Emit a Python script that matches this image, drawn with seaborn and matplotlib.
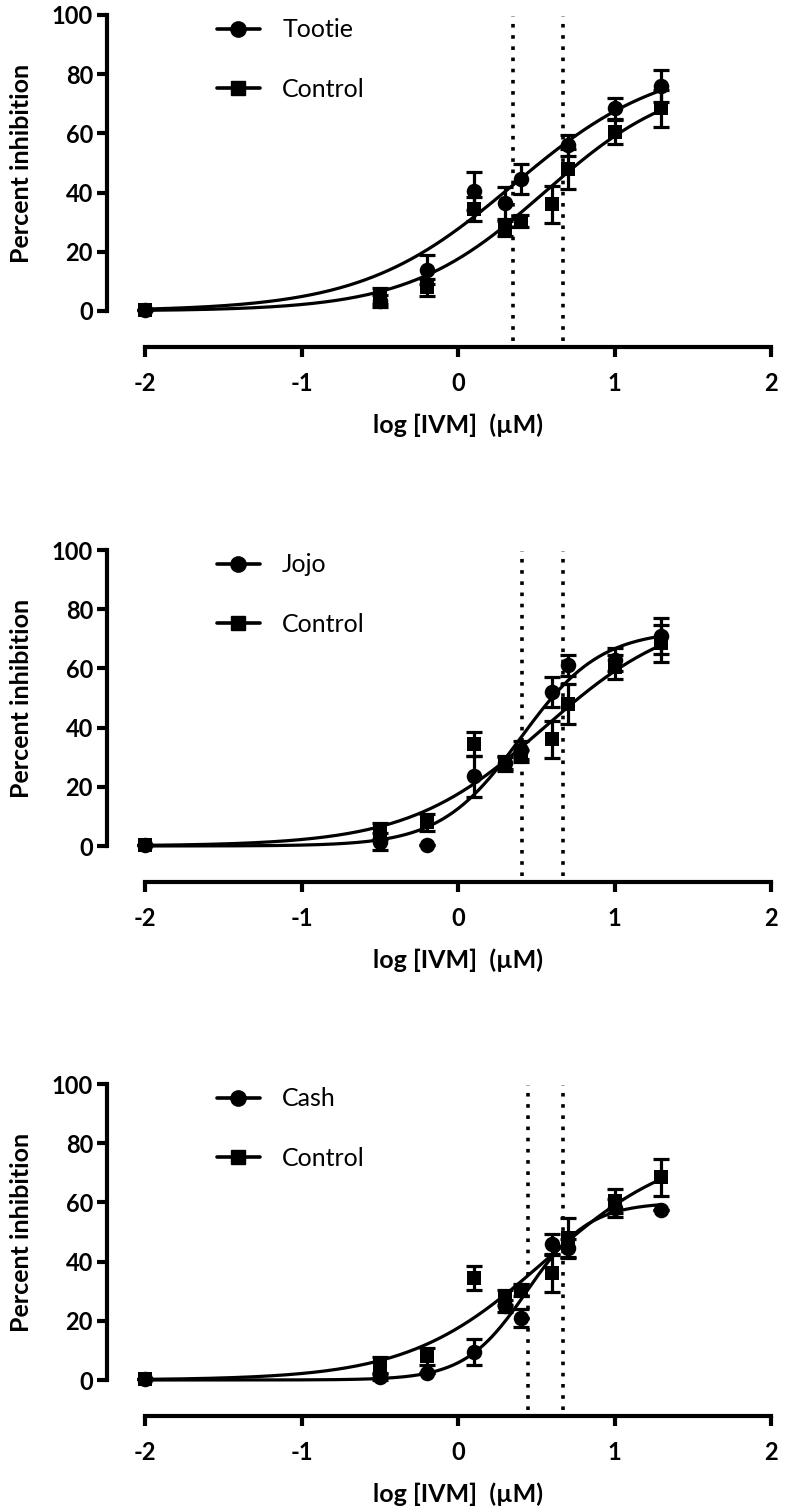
import numpy as np
import pandas as pd
import matplotlib
matplotlib.use("Agg")
import matplotlib.pyplot as plt
import seaborn as sns
from matplotlib.lines import Line2D

# ---------------- data ----------------
log_conc = [-2, -0.5, -0.2, 0.1, 0.3, 0.4, 0.6, 0.7, 1.0, 1.3]

control_mean = [0.3, 5.0, 8.0, 34.5, 28.0, 30.5, 36.0, 48.0, 60.5, 68.5]
control_sem = [0.0, 2.8, 2.8, 4.0, 2.5, 2.0, 6.2, 6.8, 4.0, 6.3]

tootie_x = [-2, -0.5, -0.2, 0.1, 0.3, 0.4, 0.7, 1.0, 1.3]
tootie_mean = [0.2, 3.5, 14.0, 40.5, 36.5, 44.5, 56.0, 68.5, 76.0]
tootie_sem = [0.0, 2.0, 5.0, 6.5, 5.5, 5.0, 3.5, 3.5, 5.3]

jojo_x = [-2, -0.5, -0.2, 0.1, 0.3, 0.4, 0.6, 0.7, 1.0, 1.3]
jojo_mean = [0.2, 1.5, 0.5, 23.5, 28.0, 32.5, 52.0, 61.0, 63.0, 71.0]
jojo_sem = [0.0, 3.0, 0.0, 7.0, 2.0, 3.0, 5.0, 3.5, 4.0, 6.0]

cash_x = [-2, -0.5, -0.2, 0.1, 0.3, 0.4, 0.6, 0.7, 1.0, 1.3]
cash_mean = [0.2, 1.0, 2.5, 9.5, 25.0, 21.0, 46.0, 44.5, 58.0, 57.5]
cash_sem = [0.0, 1.0, 0.0, 4.3, 2.0, 3.0, 3.3, 3.0, 3.0, 0.0]

# fitted sigmoid parameters: top, logEC50, hill slope (bottom = 0)
control_fit = [80.0, 0.55, 1.0]
tootie_fit = [85.0, 0.35, 0.9]
jojo_fit = [73.0, 0.40, 1.7]
cash_fit = [60.0, 0.44, 2.2]

panel_names = ["Tootie", "Jojo", "Cash"]
ic50_lines = [[0.353, 0.669], [0.411, 0.669], [0.449, 0.669]]

x_ticks = [-2, -1, 0, 1, 2]
y_ticks = [0, 20, 40, 60, 80, 100]

series = [
    (tootie_x, tootie_mean, tootie_sem, tootie_fit),
    (jojo_x, jojo_mean, jojo_sem, jojo_fit),
    (cash_x, cash_mean, cash_sem, cash_fit),
]

# ---------------- style ----------------
sns.set_theme(style="ticks")
plt.rcParams['font.family'] = ['Lato', 'DejaVu Sans']
plt.rcParams['axes.edgecolor'] = 'black'

W, H = 786, 1510
fig = plt.figure(figsize=(W / 100, H / 100), dpi=100)

# pixel geometry of each panel: y pixel of value 100, value 0
panel_top = [15, 550, 1084]
panel_zero = [311, 846, 1380]
axis_gap = 36  # px between y=0 and the x axis
left_px, right_px = 107, 771
xmin, xmax = -2.243, 2.0

def curve(fit, xs):
    top, c, h = fit
    xs = np.asarray(xs)
    return top / (1.0 + 10 ** ((c - xs) * h))

x_fit = np.linspace(-2, 1.3, 400)

for i in range(3):
    tpx, zpx = panel_top[i], panel_zero[i]
    bpx = zpx + axis_gap
    ppu = (zpx - tpx) / 100.0
    ymin = -axis_gap / ppu
    ax = fig.add_axes([left_px / W, 1 - bpx / H, (right_px - left_px) / W, (bpx - tpx) / H])
    ax.set_xlim(xmin, xmax)
    ax.set_ylim(ymin, 100)

    sx, sm, ss, sfit = series[i]

    # fitted curves
    df_c = pd.DataFrame({"x": x_fit, "y": curve(control_fit, x_fit)})
    df_s = pd.DataFrame({"x": x_fit, "y": curve(sfit, x_fit)})
    sns.lineplot(data=df_c, x="x", y="y", ax=ax, color="black", lw=2.3, zorder=2)
    sns.lineplot(data=df_s, x="x", y="y", ax=ax, color="black", lw=2.3, zorder=2)

    # dotted IC50 lines
    for xv in ic50_lines[i]:
        ax.plot([xv, xv], [-10, 99.5], color="black", lw=2.6,
                linestyle=(0, (1, 2.1)), dash_capstyle="butt", zorder=1)

    # error bars
    ax.errorbar(log_conc, control_mean, yerr=control_sem, fmt="none", ecolor="black",
                elinewidth=2.3, capsize=5.5, capthick=2.3, zorder=3)
    ax.errorbar(sx, sm, yerr=ss, fmt="none", ecolor="black",
                elinewidth=2.3, capsize=5.5, capthick=2.3, zorder=3)

    # markers
    sns.scatterplot(x=log_conc, y=control_mean, ax=ax, marker="s", s=110,
                    color="black", edgecolor="black", linewidth=0, zorder=4)
    sns.scatterplot(x=sx, y=sm, ax=ax, marker="o", s=125,
                    color="black", edgecolor="black", linewidth=0, zorder=4)

    # axes styling (prism-like offset axes)
    for side in ["top", "right"]:
        ax.spines[side].set_visible(False)
    ax.spines["left"].set_bounds(0, 100)
    ax.spines["bottom"].set_bounds(-2, 2)
    ax.spines["left"].set_linewidth(3.0)
    ax.spines["bottom"].set_linewidth(3.0)
    ax.spines["left"].set_capstyle("projecting")
    ax.spines["bottom"].set_capstyle("projecting")
    ax.set_xticks(x_ticks)
    ax.set_yticks(y_ticks)
    ax.set_xticklabels([str(t) for t in x_ticks])
    ax.set_yticklabels([str(t) for t in y_ticks])
    ax.tick_params(axis="both", direction="out", length=7, width=3.0, color="black",
                   labelsize=17, labelcolor="black")
    ax.tick_params(axis="y", pad=3)
    ax.tick_params(axis="x", pad=11)
    for lab in ax.get_xticklabels() + ax.get_yticklabels():
        lab.set_fontweight("bold")

    ax.set_xlabel("log [IVM]  (\u00b5M)", fontsize=18, fontweight="bold", color="black")
    ax.set_ylabel("Percent inhibition", fontsize=18, fontweight="bold", color="black")
    ax.xaxis.set_label_coords((0 - xmin) / (xmax - xmin), -0.20)
    ax.yaxis.set_label_coords(-0.112, (50 - ymin) / (100 - ymin))

    handles = [
        Line2D([0], [0], color="black", lw=2.6, marker="o", markersize=11),
        Line2D([0], [0], color="black", lw=2.6, marker="s", markersize=10.5),
    ]
    leg = ax.legend(handles, [panel_names[i], "Control"], loc="upper left",
                    bbox_to_anchor=(0.166, 0.99), frameon=False, fontsize=18,
                    handlelength=1.7, handletextpad=0.9, labelspacing=1.45,
                    borderpad=0, borderaxespad=0)
    for t in leg.get_texts():
        t.set_color("black")

fig.savefig("out.png", dpi=100)
